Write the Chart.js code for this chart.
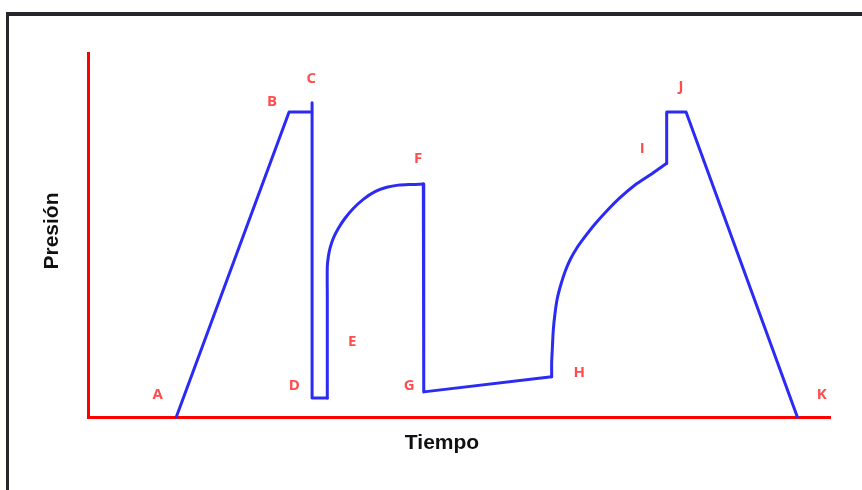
<!DOCTYPE html>
<html>
<head>
<meta charset="utf-8">
<script src="https://cdn.jsdelivr.net/npm/chart.js@4.4.1/dist/chart.umd.min.js"></script>
<style>
  html, body { margin: 0; padding: 0; background: #ffffff; }
  #wrap { position: relative; width: 862px; height: 490px; overflow: hidden; background: #fff; }
  #frame { position: absolute; left: 6px; top: 12px; width: 900px; height: 500px;
           border-top: 4px solid #26272d; border-left: 3px solid #26272d; }
  #c { position: absolute; left: 0; top: 0; }
</style>
</head>
<body>
<div id="wrap">
  <div id="frame"></div>
  <canvas id="c" width="862" height="490"></canvas>
</div>
<script>
// Pressure curve (time, pressure) in arbitrary units 0-100, split into straight and curved parts
const straight1Time = [11.9, 27.1, 30.2, 30.2, 30.2, 32.25];
const straight1Pressure = [0, 83.8, 83.8, 86.3, 5.2, 5.2];
const curve1Time = [32.25, 32.25, 32.25, 32.25, 32.39, 32.61, 33.06, 33.73, 34.64, 35.75, 37.10, 38.68, 40.26, 41.82, 43.63, 45.19];
const curve1Pressure = [5.2, 20.0, 32.6, 41.3, 44.0, 46.3, 49.1, 51.8, 54.6, 57.3, 59.8, 61.9, 63.1, 63.7, 63.9, 64.0];
const straight2Time = [45.19, 45.25, 62.49];
const straight2Pressure = [64.0, 6.9, 11.07];
const curve2Time = [62.49, 62.49, 62.57, 62.71, 62.94, 63.25, 63.71, 64.29, 64.96, 65.86, 66.98, 68.33, 69.91, 71.70, 73.72, 75.74, 77.99];
const curve2Pressure = [11.07, 15.0, 18.41, 23.90, 28.49, 32.61, 36.26, 39.92, 43.13, 46.35, 49.53, 53.02, 56.59, 60.25, 63.74, 66.48, 69.70];
const straight3Time = [77.99, 77.99, 80.6, 95.6];
const straight3Pressure = [69.70, 83.8, 83.8, 0];
// Point labels
const pointLetters = ['A', 'B', 'C', 'D', 'E', 'F', 'G', 'H', 'I', 'J', 'K'];
const letterTime = [9.4, 24.8, 30.1, 27.8, 35.6, 44.5, 43.3, 66.2, 74.7, 79.9, 98.9];
const letterPressure = [6.0, 86.5, 92.9, 8.5, 20.6, 70.9, 8.5, 12.1, 73.6, 90.7, 6.0];
const xTitle = 'Tiempo';
const yTitle = 'Presión';

const toPts = (xs, ys) => xs.map((t, i) => ({ x: t, y: ys[i] }));
const lineColor = '#2b2bf4';
const mk = (pts, smooth) => ({
  data: pts,
  showLine: true,
  borderColor: lineColor,
  borderWidth: 3,
  pointRadius: 0,
  tension: smooth ? 0.3 : 0,
  fill: false,
  clip: false,
  borderJoinStyle: 'round',
  borderCapStyle: 'round'
});

const labelPlugin = {
  id: 'labels',
  afterDraw(chart) {
    const ctx = chart.ctx;
    const xs = chart.scales.x, ys = chart.scales.y;
    ctx.save();
    ctx.fillStyle = '#ff4d4d';
    ctx.font = 'bold 15px "Open Sans", sans-serif';
    ctx.textAlign = 'center';
    ctx.textBaseline = 'middle';
    pointLetters.forEach((l, i) => {
      ctx.fillText(l, xs.getPixelForValue(letterTime[i]), ys.getPixelForValue(letterPressure[i]));
    });
    ctx.fillStyle = '#111111';
    ctx.font = 'bold 21px "Liberation Sans", Arial, sans-serif';
    ctx.fillText(xTitle, 442, 443);
    ctx.translate(52, 231);
    ctx.rotate(-Math.PI / 2);
    ctx.fillText(yTitle, 0, 0);
    ctx.restore();
  }
};

new Chart(document.getElementById('c'), {
  type: 'scatter',
  data: {
    datasets: [
      mk(toPts(straight1Time, straight1Pressure), false),
      mk(toPts(curve1Time, curve1Pressure), true),
      mk(toPts(straight2Time, straight2Pressure), false),
      mk(toPts(curve2Time, curve2Pressure), true),
      mk(toPts(straight3Time, straight3Pressure), false)
    ]
  },
  options: {
    responsive: false,
    animation: false,
    events: [],
    layout: { padding: { top: 53, right: 32, left: 0, bottom: 0 } },
    plugins: { legend: { display: false }, tooltip: { enabled: false } },
    scales: {
      x: {
        type: 'linear', min: 0, max: 100,
        ticks: { display: false },
        grid: { display: false },
        border: { display: true, color: '#ff0000', width: 3 },
        afterFit: (s) => { s.height = 73; }
      },
      y: {
        type: 'linear', min: 0, max: 100,
        ticks: { display: false },
        grid: { display: false },
        border: { display: true, color: '#ff0000', width: 3 },
        afterFit: (s) => { s.width = 88; }
      }
    }
  },
  plugins: [labelPlugin]
});
</script>
</body>
</html>
